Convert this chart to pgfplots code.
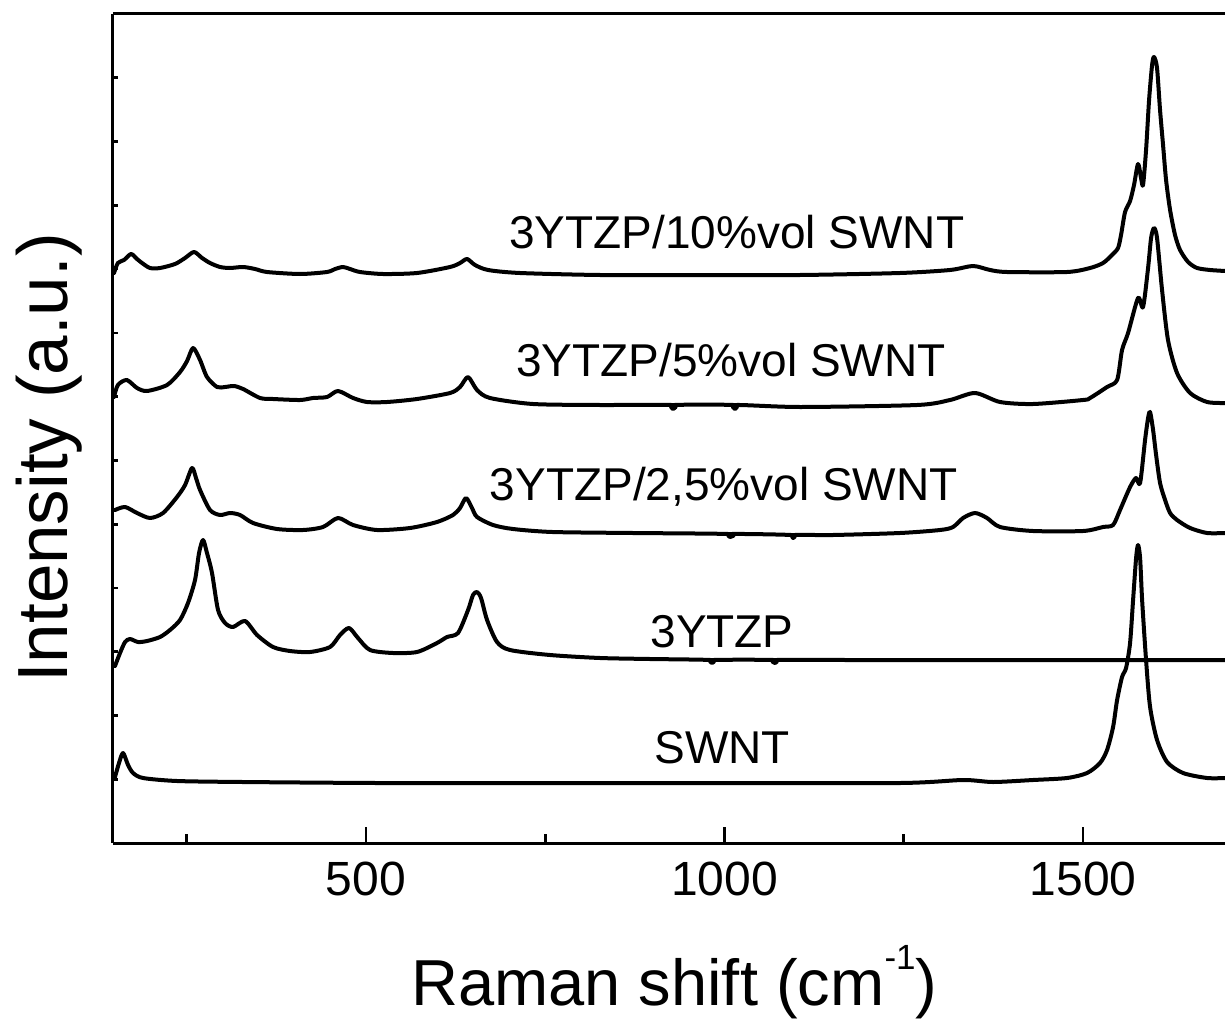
\documentclass[border=0pt]{standalone}
\usepackage{pgfplots}
\pgfplotsset{compat=1.18}
\usepackage{fontspec}
\setmainfont{Liberation Sans}
\setsansfont{Liberation Sans}
\pgfplotsset{spec/.style={black, line width=2pt, line join=round, line cap=round, mark=none, smooth, tension=0.45}}
\begin{document}
\begin{tikzpicture}
\begin{axis}[
  scale only axis,
  width=556pt, height=414.5pt,
  xmin=147.1, xmax=1698,
  ymin=0, ymax=829,
  axis y line*=left,
  xtick pos=bottom,
  axis line style={line width=1.5pt},
  tick align=inside,
  xtick={500,1000,1500},
  minor xtick={250,750,1250},
  major tick length=8pt,
  minor tick length=4.5pt,
  every tick/.style={black, line width=1.3pt},
  ytick={0,63.8,127.5,191.3,255.1,318.8,382.6,446.4,510.2,573.9,637.7,701.5,765.2,829},
  yticklabels={},
  ytick style={/pgfplots/major tick length=2.5pt},
  /pgf/number format/assume math mode=true,
  /pgf/number format/1000 sep={},
  xticklabel style={font=\fontsize{24}{28}\selectfont, yshift=-6pt},
  clip=false,
]
% 3YTZP/10%vol SWNT
\addplot[spec] coordinates {
(148.5,570)(153.9,580)(162.5,583)(172.3,589)(180.6,584)(187.6,580)(198.7,575)(212.7,575)(233.6,579)(247.6,585)(260.1,591)(271.3,585)(282.4,580)(296.4,576)(310.3,575)(328.5,576)(345.2,574)(361.9,571)(408.0,569)(445.6,571)(456.8,574)(467.9,576)(477.7,574)(491.6,571)(523.7,569)(571.1,570)(617.2,576)(631.1,580)(640.9,584)(652.0,578)(670.2,573)(714.8,570)(826.4,568)(965.8,568)(1105.3,568)(1244.8,570)(1314.5,573)(1346.6,577)(1370.3,573)(1394.0,571)(1477.7,571)(1509.8,575)(1527.9,580)(1540.4,588)(1548.8,595)(1553.0,608)(1558.6,631)(1565.6,642)(1571.1,658)(1576.7,679)(1580.9,665)(1583.7,658)(1587.9,693)(1592.1,743)(1596.3,778)(1599.0,786)(1603.2,775)(1607.4,733)(1611.6,698)(1615.8,663)(1621.4,633)(1628.3,608)(1635.3,593)(1646.5,581)(1659.0,575)(1677.2,573)(1698.1,572)
};
% 3YTZP/5%vol SWNT
\addplot[spec] coordinates {
(148.5,446)(153.9,458)(166.4,463)(180.6,455)(194.6,452)(222.5,458)(240.6,471)(250.4,482)(258.8,495)(268.5,483)(278.2,466)(292.2,456)(303.4,456)(315.9,457)(328.5,454)(352.2,445)(370.3,444)(408.0,443)(426.1,445)(445.6,446)(460.9,452)(481.9,445)(501.4,441)(529.3,441)(571.1,444)(617.2,450)(631.1,456)(642.3,466)(654.8,453)(672.9,445)(732.9,439)(826.4,438)(926.0,438)(928.2,434)(930.4,438)(1012.4,438)(1014.6,434)(1016.8,438)(1105.3,436)(1268.5,438)(1314.5,443)(1349.4,450)(1384.3,441)(1430.3,439)(1500.0,443)(1509.8,445)(1533.5,456)(1547.5,463)(1554.4,493)(1562.8,510)(1576.7,545)(1583.7,536)(1590.7,575)(1594.9,605)(1599.0,615)(1603.2,605)(1610.2,553)(1618.5,503)(1631.1,470)(1649.3,450)(1673.0,441)(1698.1,440)
};
% 3YTZP/2,5%vol SWNT
\addplot[spec] coordinates {
(149.9,333)(163.9,336)(180.6,330)(198.7,325)(216.9,330)(236.4,346)(247.6,358)(257.3,375)(262.9,365)(268.5,353)(282.4,333)(296.4,328)(310.3,330)(324.3,328)(342.4,320)(375.9,314)(412.1,313)(440.0,316)(460.9,325)(481.9,318)(515.3,313)(561.4,315)(599.0,321)(621.3,328)(631.1,335)(639.5,345)(647.8,335)(654.8,326)(677.1,318)(705.0,314)(760.0,311)(872.4,310)(1005.3,309)(1007.7,306)(1010.1,309)(1093.1,308)(1095.5,305)(1097.9,308)(1151.3,308)(1244.8,310)(1300.6,313)(1318.7,316)(1332.7,325)(1349.4,330)(1366.1,325)(1384.3,316)(1430.3,312)(1500.0,312)(1527.9,316)(1541.9,318)(1551.6,333)(1565.6,356)(1573.9,365)(1579.6,360)(1586.5,403)(1590.7,425)(1593.5,431)(1597.7,413)(1601.9,388)(1607.4,360)(1614.4,343)(1621.4,330)(1631.1,323)(1649.3,315)(1673.0,310)(1698.1,310)
};
% 3YTZP
\addplot[spec] coordinates {
(149.9,177)(156.9,190)(163.9,201)(170.8,204)(182.0,201)(194.6,202)(212.7,206)(226.6,213)(240.6,223)(251.7,240)(261.5,263)(267.1,290)(272.7,303)(278.2,290)(285.2,270)(293.6,233)(303.4,220)(314.5,216)(331.3,222)(348.0,208)(370.3,196)(394.0,192)(421.9,191)(449.8,196)(463.7,208)(476.3,215)(488.8,205)(505.6,193)(537.7,190)(571.1,191)(599.0,200)(613.0,206)(628.3,210)(642.3,233)(649.2,248)(654.8,251)(660.4,245)(668.8,223)(682.7,201)(700.8,193)(756.6,188)(826.4,185)(896.1,184)(980.4,183)(982.6,180)(984.8,183)(1068.2,183)(1070.4,180)(1072.6,183)(1175,183)(1314.5,183)(1454,183)(1698.1,183)
};
% SWNT
\addplot[spec] coordinates {
(149.9,66)(155.5,80)(161.1,90)(168.1,78)(175.1,70)(189.0,65)(236.4,62)(328.5,61)(515.3,60)(700.8,60)(896.1,60)(965.8,60)(1244.8,60)(1332.7,63)(1374.5,61)(1430.3,63)(1477.7,65)(1505.6,70)(1523.7,80)(1533.5,93)(1541.9,116)(1547.5,143)(1554.4,166)(1560.0,175)(1565.6,200)(1569.8,243)(1574.0,285)(1576.7,298)(1579.6,285)(1582.4,243)(1587.9,183)(1593.5,136)(1603.2,103)(1617.2,81)(1639.5,70)(1673.0,65)(1698.1,65)
};
\node[font=\fontsize{23}{27}\selectfont] at (axis cs:1017,611) {3YTZP/10\%vol SWNT};
\node[font=\fontsize{23}{27}\selectfont] at (axis cs:1009,483) {3YTZP/5\%vol SWNT};
\node[font=\fontsize{23}{27}\selectfont] at (axis cs:999,356) {3YTZP/2,5\%vol SWNT};
\node[font=\fontsize{23}{27}\selectfont] at (axis cs:996.5,211) {3YTZP};
\node[font=\fontsize{23}{27}\selectfont] at (axis cs:996.5,95) {SWNT};
\node[font=\fontsize{32.5}{38}\selectfont, anchor=base] at (axis cs:930,-162) {Raman shift (cm\raisebox{0.55em}{\fontsize{17.5}{20}\selectfont -1})};
\node[font=\fontsize{35.5}{42}\selectfont, rotate=90, anchor=base] at (axis cs:84,385) {Intensity (a.u.)};
\coordinate (sw) at (rel axis cs:0,0);
\coordinate (ne) at (rel axis cs:1,1);
\end{axis}
\pgfresetboundingbox
\path ([xshift=-56.5pt,yshift=-90.5pt]sw) rectangle ([yshift=7pt]ne);
\end{tikzpicture}
\end{document}
